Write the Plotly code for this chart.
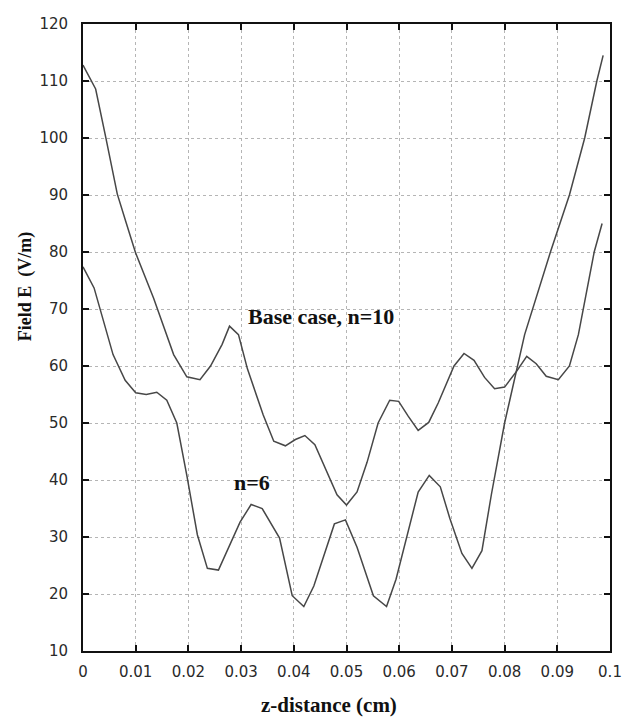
import plotly.graph_objects as go

# Base case, n=10 (upper curve at left)
n10_x = [0, 0.0024, 0.0043, 0.0065, 0.0081, 0.0100, 0.0134, 0.0172, 0.0197, 0.0222,
         0.0242, 0.0264, 0.0278, 0.0295, 0.0312, 0.0342, 0.0362, 0.0384, 0.0403, 0.0421,
         0.0440, 0.0461, 0.0482, 0.0500, 0.0520, 0.0539, 0.0560, 0.0582, 0.0599, 0.0617,
         0.0636, 0.0656, 0.0674, 0.0704, 0.0723, 0.0742, 0.0762, 0.0781, 0.0800, 0.0823,
         0.0842, 0.0860, 0.0879, 0.0902, 0.0923, 0.0940, 0.0970, 0.0985]
n10_y = [112.8, 108.6, 100.2, 90.2, 85.4, 79.8, 71.9, 62.0, 58.1, 57.6,
         60.0, 63.8, 67.0, 65.5, 59.5, 51.4, 46.8, 46.0, 47.1, 47.8,
         46.2, 41.9, 37.4, 35.6, 37.9, 43.1, 50.0, 54.0, 53.8, 51.2,
         48.7, 50.1, 53.5, 60.0, 62.2, 61.0, 58.0, 56.0, 56.3, 59.1,
         61.7, 60.4, 58.2, 57.6, 60.0, 65.5, 80.0, 85.0]

# n=6 (lower curve at left)
n6_x = [0, 0.0021, 0.0057, 0.0080, 0.0100, 0.0120, 0.0140, 0.0159, 0.0178, 0.0197,
        0.0217, 0.0236, 0.0257, 0.0279, 0.0298, 0.0319, 0.0340, 0.0373, 0.0397, 0.0419,
        0.0438, 0.0477, 0.0498, 0.0520, 0.0551, 0.0576, 0.0594, 0.0636, 0.0657, 0.0678,
        0.0696, 0.0719, 0.0738, 0.0757, 0.0775, 0.0800, 0.0838, 0.0887, 0.0923, 0.0952,
        0.0975, 0.0987]
n6_y = [77.4, 73.7, 62.0, 57.5, 55.3, 55.0, 55.4, 54.0, 50.0, 40.8,
        30.4, 24.5, 24.2, 28.6, 32.6, 35.7, 35.0, 29.8, 19.7, 17.8,
        21.4, 32.3, 33.0, 28.2, 19.7, 17.8, 22.6, 37.9, 40.8, 38.8,
        33.3, 27.1, 24.5, 27.6, 37.5, 50.0, 65.5, 80.0, 90.0, 100.0,
        110.0, 114.5]

x_tick_vals = [0, 0.01, 0.02, 0.03, 0.04, 0.05, 0.06, 0.07, 0.08, 0.09, 0.1]
x_tick_text = ["0", "0.01", "0.02", "0.03", "0.04", "0.05", "0.06", "0.07", "0.08", "0.09", "0.1"]
y_tick_vals = [10, 20, 30, 40, 50, 60, 70, 80, 90, 100, 110, 120]

x_title = "z-distance (cm)"
y_title = "Field E  (V/m)"
label_n10 = "Base case, n=10"
label_n6 = "n=6"

line_color = "#474747"
serif = "Liberation Serif, Times New Roman, serif"

fig = go.Figure()
fig.add_trace(go.Scatter(x=n10_x, y=n10_y, mode="lines", name=label_n10,
                         line=dict(color=line_color, width=1.5)))
fig.add_trace(go.Scatter(x=n6_x, y=n6_y, mode="lines", name=label_n6,
                         line=dict(color=line_color, width=1.5)))

# page has an 8px body margin: figure occupies (8,8)-(631,724)
OFF = 8
W, H = 631 - OFF, 724 - OFF
L, R, T, B = 83 - OFF, 21, 15 - OFF, 73
pw, ph = W - L - R, H - T - B
plot_left_pg, plot_bottom_pg = L + OFF, T + OFF + ph

axis_common = dict(
    showline=True, linecolor="#111", linewidth=1.8, mirror="ticks",
    ticks="inside", ticklen=6, tickwidth=1.5, tickcolor="#111",
    showgrid=True, gridcolor="#b5b5b5", gridwidth=1, griddash="dot",
    zeroline=False,
    tickfont=dict(family="DejaVu Sans, Arial, sans-serif", size=15, color="#2a2a2a"),
)

fig.update_xaxes(range=[0, 0.1], tickvals=x_tick_vals, ticktext=x_tick_text,
                 ticklabelstandoff=6, **axis_common)
fig.update_yaxes(range=[10, 120], tickvals=y_tick_vals,
                 ticklabelstandoff=10, **axis_common)

fig.update_layout(
    width=W, height=H,
    margin=dict(l=L, r=R, t=T, b=B),
    paper_bgcolor="white", plot_bgcolor="white",
    showlegend=False,
    annotations=[
        dict(text="<b>%s</b>" % label_n10, x=0.0310, y=68.6, xref="x", yref="y",
             xanchor="left", yanchor="middle", showarrow=False,
             font=dict(family=serif, size=22, color="#111")),
        dict(text="<b>%s</b>" % label_n6, x=0.0282, y=39.6, xref="x", yref="y",
             xanchor="left", yanchor="middle", showarrow=False,
             font=dict(family=serif, size=22, color="#111")),
        dict(text="<b>%s</b>" % x_title, x=(329 - plot_left_pg) / pw,
             y=-(706 - plot_bottom_pg) / ph,
             xref="paper", yref="paper", xanchor="center", yanchor="middle",
             showarrow=False, font=dict(family=serif, size=21, color="#111")),
        dict(text="<b>%s</b>" % y_title, x=(25 - plot_left_pg) / pw,
             y=(plot_bottom_pg - 281) / ph,
             xref="paper", yref="paper", xanchor="center", yanchor="middle",
             textangle=-90, showarrow=False,
             font=dict(family=serif, size=18, color="#111")),
    ],
)

fig.write_html("out.html")
